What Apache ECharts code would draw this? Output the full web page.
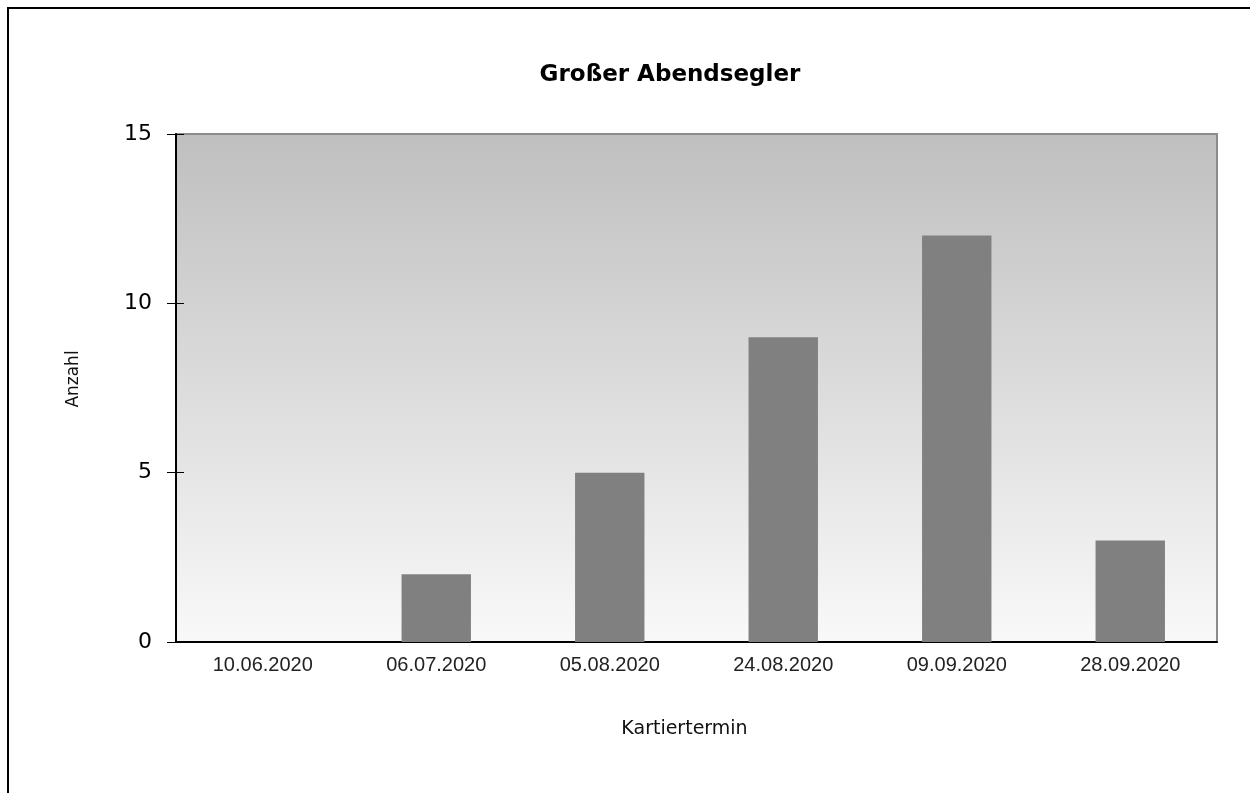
<!DOCTYPE html>
<html>
<head>
<meta charset="utf-8">
<script src="https://cdn.jsdelivr.net/npm/echarts@6/dist/echarts.min.js"></script>
<style>
  html, body { margin: 0; padding: 0; background: #fff; }
  #chart { width: 1250px; height: 793px; }
</style>
</head>
<body>
<div id="chart"></div>
<script>
// Daten
const termine = ['10.06.2020', '06.07.2020', '05.08.2020', '24.08.2020', '09.09.2020', '28.09.2020']
const anzahl = [0, 2, 5, 9, 12, 3]
const yMax = 15
const yStep = 5

const chart = echarts.init(document.getElementById('chart'))

const wide = 'DejaVu Sans, Verdana, sans-serif'
const narrow = 'Liberation Sans, Arial, sans-serif'

const option = {
  backgroundColor: '#fff',
  animation: false,
  title: {
    text: 'Großer Abendsegler',
    left: 665,
    top: 59,
    textAlign: 'center',
    textStyle: { fontFamily: wide, fontSize: 23, fontWeight: 'bold', color: '#000' },
  },
  // Rahmen um das ganze Diagramm
  graphic: [
    {
      type: 'rect',
      shape: { x: 8, y: 8, width: 1260, height: 800 },
      style: { fill: 'none', stroke: '#000', lineWidth: 2 },
      silent: true,
    },
  ],
  grid: {
    left: 176,
    right: 33,
    top: 134,
    bottom: 151,
    show: true,
    borderColor: '#8c8c8c',
    borderWidth: 2,
    backgroundColor: new echarts.graphic.LinearGradient(0, 0, 0, 1, [
      { offset: 0, color: '#bfbfbf' },
      { offset: 1, color: '#f9f9f9' },
    ]),
  },
  xAxis: {
    type: 'category',
    data: termine,
    name: 'Kartiertermin',
    nameLocation: 'middle',
    nameGap: 78,
    nameTextStyle: { fontFamily: wide, fontSize: 19, color: '#111', padding: [0, 24, 0, 0] },
    axisLine: { lineStyle: { color: '#000', width: 2 } },
    axisTick: { inside: true, length: 6, lineStyle: { color: '#000' } },
    axisLabel: { fontFamily: narrow, fontSize: 20, color: '#222', margin: 13 },
    splitLine: { show: false },
  },
  yAxis: [
    {
      type: 'value',
      min: 0,
      max: yMax,
      interval: yStep,
      name: 'Anzahl',
      nameLocation: 'middle',
      nameGap: 94,
      nameTextStyle: { fontFamily: wide, fontSize: 17, color: '#111', padding: [0, 0, 0, 18] },
      axisLine: { show: true, lineStyle: { color: '#000', width: 2 } },
      axisTick: { show: true, length: 9, lineStyle: { color: '#000' } },
      axisLabel: { fontFamily: wide, fontSize: 22, color: '#000', margin: 24 },
      splitLine: { show: false },
    },
    {
      // zweite Achse nur für die inneren Striche
      type: 'value',
      position: 'left',
      min: 0,
      max: yMax,
      interval: yStep,
      axisLine: { show: false },
      axisTick: { show: true, inside: true, length: 8, lineStyle: { color: '#000' } },
      axisLabel: { show: false },
      splitLine: { show: false },
    },
  ],
  series: [
    {
      type: 'bar',
      data: anzahl,
      barWidth: '40%',
      itemStyle: { color: '#808080' },
    },
  ],
}

chart.setOption(option)
</script>
</body>
</html>
